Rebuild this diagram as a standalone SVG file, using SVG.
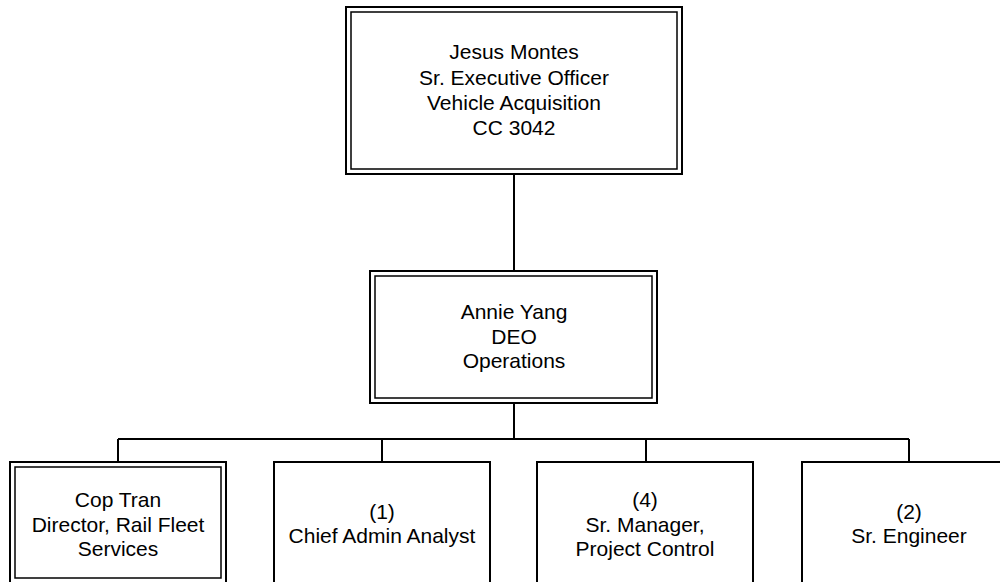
<svg xmlns="http://www.w3.org/2000/svg" width="1000" height="582" viewBox="0 0 1000 582">
<style>
.bg{fill:#ffffff}
.outer{fill:#ffffff;stroke:#000000;stroke-width:2}
.inner{fill:none;stroke:#000000;stroke-width:1.5}
.box{fill:#ffffff;stroke:#000000;stroke-width:2}
.conn{fill:none;stroke:#000000;stroke-width:2}
text{font-family:"Liberation Sans",Arial,sans-serif;font-size:21px;fill:#000000;text-anchor:middle}
</style>
<rect class="bg" x="0" y="0" width="1000" height="582"/>
<g id="connectors">
<path class="conn" d="M514,174 V271"/>
<path class="conn" d="M514,403 V439"/>
<path class="conn" d="M118,439 H909"/>
<path class="conn" d="M118,439 V462 M382,439 V462 M646,439 V462 M909,439 V462"/>
</g>
<g id="jesus-montes">
<rect class="outer" x="346" y="7" width="336" height="167"/>
<rect class="inner" x="351" y="12" width="326" height="157"/>
<text x="514" y="59">Jesus Montes</text>
<text x="514" y="84.5">Sr. Executive Officer</text>
<text x="514" y="110">Vehicle Acquisition</text>
<text x="514" y="135">CC 3042</text>
</g>
<g id="annie-yang">
<rect class="outer" x="370" y="271" width="287" height="132"/>
<rect class="inner" x="375" y="276" width="277" height="122"/>
<text x="514" y="319">Annie Yang</text>
<text x="514" y="343.5">DEO</text>
<text x="514" y="368">Operations</text>
</g>
<g id="cop-tran">
<rect class="outer" x="10" y="462" width="216" height="121"/>
<rect class="inner" x="15" y="467" width="206" height="111"/>
<text x="118" y="507">Cop Tran</text>
<text x="118" y="531.5">Director, Rail Fleet</text>
<text x="118" y="556">Services</text>
</g>
<g id="chief-admin-analyst">
<rect class="box" x="274" y="462" width="216" height="124"/>
<text x="382" y="519">(1)</text>
<text x="382" y="543">Chief Admin Analyst</text>
</g>
<g id="sr-manager">
<rect class="box" x="537" y="462" width="216" height="124"/>
<text x="645" y="507">(4)</text>
<text x="645" y="531.5">Sr. Manager,</text>
<text x="645" y="556">Project Control</text>
</g>
<g id="sr-engineer">
<rect class="box" x="802" y="462" width="216" height="124"/>
<text x="909" y="519">(2)</text>
<text x="909" y="543">Sr. Engineer</text>
</g>
</svg>
